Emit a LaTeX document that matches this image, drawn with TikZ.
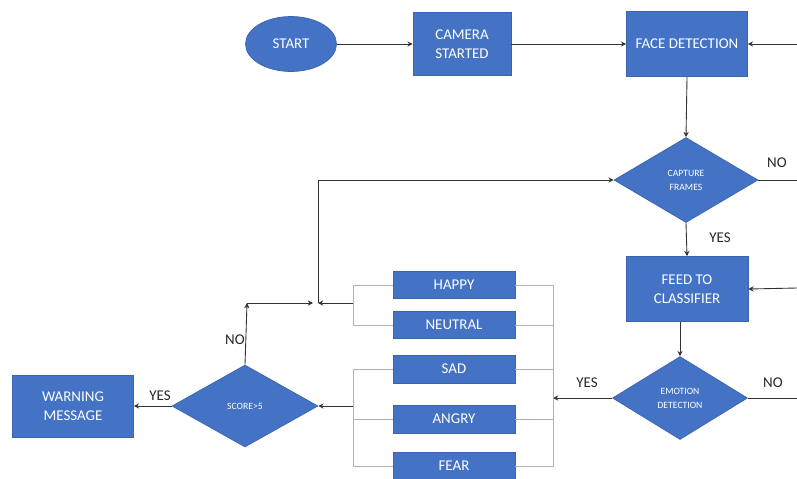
\documentclass[tikz,border=0pt]{standalone}
\usepackage{fontspec}
\setmainfont{Carlito}
\usetikzlibrary{shapes.geometric,arrows.meta}
\definecolor{boxblue}{HTML}{4472C4}
\definecolor{boxedge}{HTML}{3A64AE}
\tikzset{
	blockbox/.style={draw=boxedge, fill=boxblue, text=white, align=center, inner sep=1pt, font=\fontsize{8.5}{11}\selectfont},
	decbox/.style={diamond, draw=boxedge, fill=boxblue, text=white, align=center, inner sep=0pt, font=\fontsize{5.5}{8}\selectfont},
	flowarr/.style={draw=black!80, line width=0.5pt, -{Stealth[length=3pt,width=3pt]}},
	flowline/.style={draw=black!80, line width=0.5pt},
	brack/.style={draw=gray!60, line width=0.5pt},
	lbl/.style={font=\fontsize{8.5}{10}\selectfont, text=black!85}
}
\begin{document}
\begin{tikzpicture}[x=0.02cm, y=-0.02cm]
		\useasboundingbox (0,0) rectangle (797,478);

		% top row
		\node[blockbox, ellipse, minimum width=1.82cm, minimum height=1.1cm] (start) at (291, 44) {START};
		\node[blockbox, minimum width=1.96cm, minimum height=1.26cm] (camera) at (462, 44) {CAMERA\\STARTED};
		\node[blockbox, minimum width=2.42cm, minimum height=1.3cm] (face) at (687, 44) {FACE DETECTION};

		% right column
		\node[decbox, minimum width=2.88cm, minimum height=1.7cm] (capture) at (686, 180) {CAPTURE\\FRAMES};
		\node[blockbox, minimum width=2.44cm, minimum height=1.3cm] (feed) at (687, 289) {FEED TO\\CLASSIFIER};
		\node[decbox, minimum width=2.7cm, minimum height=1.66cm] (emotion) at (680, 398) {EMOTION\\DETECTION};

		% emotions
		\node[blockbox, minimum width=2.44cm, minimum height=0.54cm] (happy) at (454, 285) {HAPPY};
		\node[blockbox, minimum width=2.44cm, minimum height=0.54cm] (neutral) at (454, 325) {NEUTRAL};
		\node[blockbox, minimum width=2.44cm, minimum height=0.56cm] (sad) at (454, 369) {SAD};
		\node[blockbox, minimum width=2.44cm, minimum height=0.56cm] (angry) at (454, 419) {ANGRY};
		\node[blockbox, minimum width=2.44cm, minimum height=0.56cm] (fear) at (454, 466) {FEAR};

		% left side
		\node[decbox, minimum width=2.92cm, minimum height=1.64cm] (score) at (245, 406) {SCORE>5};
		\node[blockbox, minimum width=2.42cm, minimum height=1.24cm] (warning) at (73, 406) {WARNING\\MESSAGE};

		% loose ends and junctions
		\coordinate (facein) at (797, 44);
		\coordinate (captureout) at (797, 180);
		\coordinate (feedin) at (797, 288);
		\coordinate (emotionout) at (797, 398);
		\coordinate (rbrack) at (553, 398);
		\coordinate (lbrtop) at (353, 303);
		\coordinate (lbrbot) at (353, 406);
		\coordinate (loopup) at (318, 303);
		\coordinate (loopend) at (313, 303);
		\coordinate (nobend) at (247, 303);

		\draw[flowarr] (start) -- (camera);
		\draw[flowarr] (camera) -- (face);
		\draw[flowarr] (facein) -- (face.east);
		\draw[flowarr] (face.south) -- (capture.north);
		\draw[flowline] (capture.east) -- (captureout);
		\draw[flowarr] (capture.south) -- (feed.north);
		\draw[flowarr] (feedin) -- (feed.east);
		\draw[flowarr] (feed.south -| emotion.north) -- (emotion.north);
		\draw[flowline] (emotion.east) -- (emotionout);
		\draw[flowarr] (emotion.west) -- (rbrack);

		% brackets round the emotions
		\draw[brack] (happy.east) -- (happy.east -| rbrack) -- (fear.east -| rbrack) -- (fear.east);
		\draw[brack] (neutral.east) -- (neutral.east -| rbrack);
		\draw[brack] (sad.east) -- (sad.east -| rbrack);
		\draw[brack] (angry.east) -- (angry.east -| rbrack);
		\draw[brack] (happy.west) -- (happy.west -| lbrtop) -- (neutral.west -| lbrtop) -- (neutral.west);
		\draw[brack] (sad.west) -- (sad.west -| lbrbot) -- (fear.west -| lbrbot) -- (fear.west);
		\draw[brack] (angry.west) -- (angry.west -| lbrbot);

		% back to capture
		\draw[flowarr] (lbrtop) -- (loopup);
		\draw[flowarr] (loopup) |- (capture.west);
		\draw[flowarr] (lbrbot) -- (score.east);
		\draw[flowarr] (score.west) -- (warning.east);
		\draw[flowarr] (score.north) -- (nobend);
		\draw[flowarr] (nobend) -- (loopend);

		% labels
		\node[lbl] (capno) at (777, 163) {NO};
		\node[lbl] (capyes) at (720, 238) {YES};
		\node[lbl] (emoyes) at (587, 383) {YES};
		\node[lbl] (emono) at (773, 383) {NO};
		\node[lbl] (scoreyes) at (160, 396) {YES};
		\node[lbl] (scoreno) at (235, 340) {NO};
	\end{tikzpicture}
\end{document}
